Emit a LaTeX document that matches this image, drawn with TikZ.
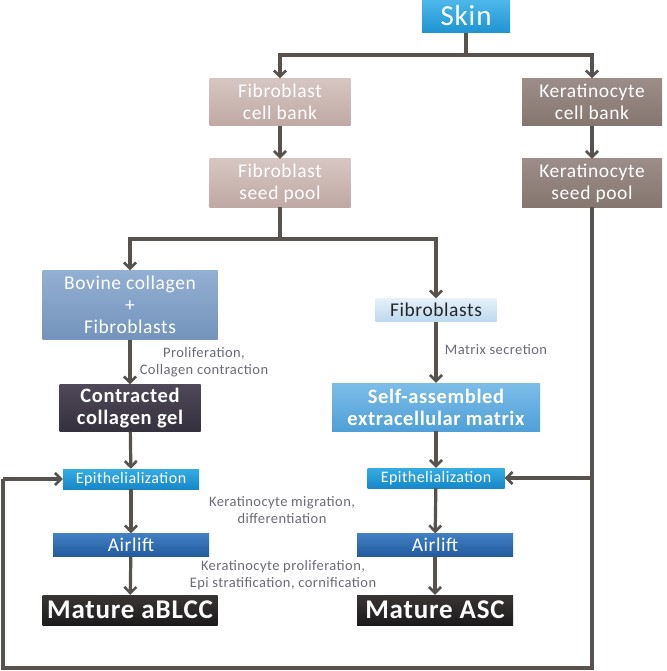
\documentclass[tikz,border=0pt]{standalone}
\usepackage{fontspec}
\setmainfont{Carlito}
\newfontfamily\wfont[LetterSpace=3]{Carlito}
\usetikzlibrary{arrows.meta}
\definecolor{linegray}{HTML}{58524F}
\definecolor{lblgray}{HTML}{6A6A78}
\definecolor{skintop}{HTML}{4DB8EA}
\definecolor{skinbot}{HTML}{1E94D2}
\definecolor{fibtop}{HTML}{D6C6C2}
\definecolor{fibbot}{HTML}{BFA9A4}
\definecolor{kertop}{HTML}{9C8D89}
\definecolor{kerbot}{HTML}{85766F}
\definecolor{bovtop}{HTML}{93AFD2}
\definecolor{bovbot}{HTML}{7494BC}
\definecolor{fibrtop}{HTML}{E6F1FA}
\definecolor{fibrbot}{HTML}{BCD8EE}
\definecolor{geltop}{HTML}{4E4858}
\definecolor{gelbot}{HTML}{35303E}
\definecolor{ecmtop}{HTML}{7DBDE8}
\definecolor{ecmbot}{HTML}{4FA0D8}
\definecolor{epitop}{HTML}{35ACE4}
\definecolor{epibot}{HTML}{1787C8}
\definecolor{airtop}{HTML}{4180C2}
\definecolor{airbot}{HTML}{22599E}
\definecolor{mattop}{HTML}{3A3535}
\definecolor{matbot}{HTML}{1C1A1A}
\begin{document}
\begin{tikzpicture}[x=1pt,y=-1pt,
  box/.style={inner sep=0pt,align=center,text=white,font=\wfont\fontsize{19.5}{22}\selectfont},
  arr/.style={draw=linegray,line width=3.2pt,-{Straight Barb[length=6pt,width=12pt,line width=2.6pt]}},
  wire/.style={draw=linegray,line width=3.2pt},
  lbl/.style={align=center,text=lblgray,font=\wfont\fontsize{14.5}{17}\selectfont}]
\useasboundingbox (0,0) rectangle (666,671);
% top row
\node[box,top color=skintop,bottom color=skinbot,minimum width=88pt,minimum height=33pt,
  font=\wfont\fontsize{29}{30}\selectfont] (skin) at (466,16) {Skin};
\node[box,top color=fibtop,bottom color=fibbot,minimum width=141pt,minimum height=47pt] (fcb) at (280,102) {Fibroblast\\cell bank};
\node[box,top color=kertop,bottom color=kerbot,minimum width=140pt,minimum height=47pt] (kcb) at (592,102) {Keratinocyte\\cell bank};
\node[box,top color=fibtop,bottom color=fibbot,minimum width=141pt,minimum height=48pt] (fsp) at (280,183) {Fibroblast\\seed pool};
\node[box,top color=kertop,bottom color=kerbot,minimum width=140pt,minimum height=48pt] (ksp) at (592,183) {Keratinocyte\\seed pool};
% middle
\node[box,top color=bovtop,bottom color=bovbot,minimum width=175pt,minimum height=69pt] (bov) at (130,305) {Bovine collagen\\+\\Fibroblasts};
\node[box,top color=fibrtop,bottom color=fibrbot,minimum width=121pt,minimum height=23pt,text=black!85] (fib) at (436,310) {Fibroblasts};
\node[box,top color=geltop,bottom color=gelbot,minimum width=141pt,minimum height=47pt,font=\wfont\bfseries\fontsize{20.5}{22}\selectfont] (gel) at (130,408) {Contracted\\collagen gel};
\node[box,top color=ecmtop,bottom color=ecmbot,minimum width=208pt,minimum height=48pt,font=\wfont\bfseries\fontsize{20.5}{22}\selectfont] (ecm) at (436,407) {Self-assembled\\extracellular matrix};
% bottom
\node[box,top color=epitop,bottom color=epibot,minimum width=136pt,minimum height=20pt,font=\wfont\fontsize{16}{18}\selectfont] (epiL) at (131,479) {Epithelialization};
\node[box,top color=epitop,bottom color=epibot,minimum width=137pt,minimum height=20pt,font=\wfont\fontsize{16}{18}\selectfont] (epiR) at (436,478) {Epithelialization};
\node[box,top color=airtop,bottom color=airbot,minimum width=156pt,minimum height=23pt] (airL) at (131,545) {Airlift};
\node[box,top color=airtop,bottom color=airbot,minimum width=156pt,minimum height=23pt] (airR) at (435,545) {Airlift};
\node[box,top color=mattop,bottom color=matbot,minimum width=175pt,minimum height=30pt,font=\wfont\bfseries\fontsize{27}{28}\selectfont] (matL) at (130,610) {Mature aBLCC};
\node[box,top color=mattop,bottom color=matbot,minimum width=156pt,minimum height=30pt,font=\wfont\bfseries\fontsize{27}{28}\selectfont] (matR) at (435,610) {Mature ASC};
% labels
\node[lbl] (lblA) at (204,362) {Proliferation,\\Collagen contraction};
\node[lbl] (lblB) at (496,350) {Matrix secretion};
\node[lbl] (lblC) at (282,510) {Keratinocyte migration,\\differentiation};
\node[lbl] (lblD) at (283,575) {Keratinocyte proliferation,\\Epi stratification, cornification};
% connectors
\coordinate (split1) at (466,55);
\coordinate (split2) at (280,239);
\coordinate (kbr) at (592,478);
\coordinate (kdown) at (592,668);
\coordinate (lcorner) at (3,668);
\coordinate (lup) at (3,479);
\draw[wire] (skin.south) -- (split1);
\draw[arr] (split1) -| (fcb.north);
\draw[arr] (split1) -| (kcb.north);
\draw[arr] (fcb) -- (fsp);
\draw[arr] (kcb) -- (ksp);
\draw[wire] (fsp.south) -- (split2);
\draw[arr] (split2) -| (bov.north);
\draw[arr] (split2) -| (fib.north);
\draw[arr] (bov) -- (gel);
\draw[arr] (fib) -- (ecm);
\draw[arr] (gel) -- (epiL);
\draw[arr] (ecm) -- (epiR);
\draw[arr] (epiL) -- (airL);
\draw[arr] (epiR) -- (airR);
\draw[arr] (airL) -- (matL);
\draw[arr] (airR) -- (matR);
\draw[wire] (ksp.south) -- (kdown) -- (lcorner) -- (lup);
\draw[arr] (lup) -- (epiL.west);
\draw[arr] (kbr) -- (epiR.east);
\end{tikzpicture}
\end{document}
